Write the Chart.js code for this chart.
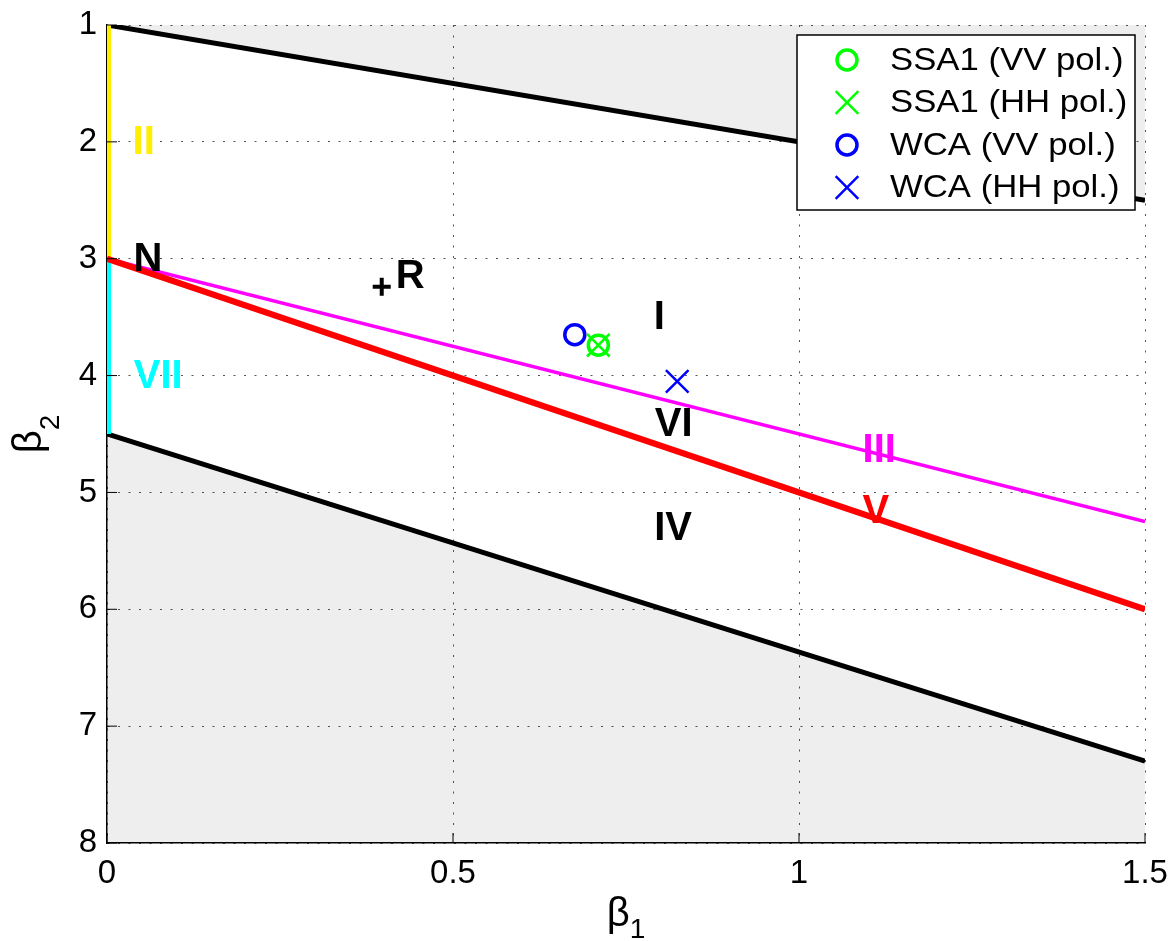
<!DOCTYPE html>
<html>
<head>
<meta charset="utf-8">
<script src="https://cdn.jsdelivr.net/npm/chart.js@4/dist/chart.umd.min.js"></script>
<style>
  html, body { margin: 0; padding: 0; background: #fff; }
  #wrap { width: 1172px; height: 941px; }
</style>
</head>
<body>
<div id="wrap"><canvas id="chart" width="1172" height="941"></canvas></div>
<script>
// ---------------- DATA ----------------
const lineX = [0, 1.5];
const upperY = [1, 2.5];      // black, top boundary
const lowerY = [4.5, 7.3];    // black, bottom boundary
const redY = [3, 6];          // V
const magentaY = [3, 5.25];   // III
const edgeX = [0, 0];
const yellowY = [1, 3];       // II
const cyanY = [3, 4.5];       // VII

const seriesNames = ["SSA1 (VV pol.)", "SSA1 (HH pol.)", "WCA (VV pol.)", "WCA (HH pol.)"];
const seriesX = [0.710, 0.710, 0.676, 0.824];
const seriesY = [3.74, 3.74, 3.65, 4.05];
const seriesColors = ["#00ff00", "#00ff00", "#0000ff", "#0000ff"];
const seriesStyles = ["circle", "crossRot", "circle", "crossRot"];

const refX = [0.397];
const refY = [3.24];

const regionLabels = ["II", "N", "R", "VII", "I", "VI", "IV", "III", "V"];
const regionX = [0.053, 0.059, 0.438, 0.074, 0.798, 0.819, 0.818, 1.116, 1.111];
const regionY = [2.0, 3.0, 3.15, 4.0, 3.5, 4.41, 5.30, 4.64, 5.16];
const regionColors = ["#ffee00", "#000", "#000", "#00ffff", "#000", "#000", "#000", "#ff00ff", "#ff0000"];

const xTicks = [0, 0.5, 1, 1.5];
const yTicks = [1, 2, 3, 4, 5, 6, 7, 8];

const FONT = "'Liberation Sans', Arial, sans-serif";

const pts = (xs, ys) => xs.map((x, i) => ({ x: x, y: ys[i] }));

// ---------------- DATASETS ----------------
const datasets = [];

seriesNames.forEach((name, i) => {
    const circ = seriesStyles[i] === "circle";
    datasets.push({
        label: name,
        data: pts([seriesX[i]], [seriesY[i]]),
        showLine: false,
        pointStyle: seriesStyles[i],
        pointRadius: circ ? 10 : 16,
        pointBorderWidth: circ ? 3.5 : 2.5,
        borderColor: seriesColors[i],
        pointBackgroundColor: "rgba(0,0,0,0)",
        inLegend: true
    });
});

datasets.push({
    label: "R",
    data: pts(refX, refY),
    showLine: false,
    pointStyle: "cross",
    pointRadius: 9,
    pointBorderWidth: 4,
    borderColor: "#000"
});

function lineSet(label, xs, ys, color, width, extra) {
    return Object.assign({
        label: label,
        data: pts(xs, ys),
        showLine: true,
        borderColor: color,
        borderWidth: width,
        pointRadius: 0,
        fill: false
    }, extra || {});
}

datasets.push(lineSet("V", lineX, redY, "#ff0000", 6));
datasets.push(lineSet("III", lineX, magentaY, "#ff00ff", 3.5));
datasets.push(lineSet("II", edgeX, yellowY, "#ffee00", 8, { clip: 0 }));
datasets.push(lineSet("VII", edgeX, cyanY, "#00ffff", 8, { clip: 0 }));
datasets.push(lineSet("upper", lineX, upperY, "#000", 5,
    { fill: { value: 1 }, backgroundColor: "rgba(0,0,0,0.065)" }));
datasets.push(lineSet("lower", lineX, lowerY, "#000", 5,
    { fill: { value: 8 }, backgroundColor: "rgba(0,0,0,0.065)" }));

// ---------------- PLUGINS ----------------
const extras = {
    id: "extras",
    afterDatasetsDraw(chart) {
        const ctx = chart.ctx;
        const xs = chart.scales.x, ys = chart.scales.y;
        const ca = chart.chartArea;

        // inner tick marks (matlab style)
        ctx.save();
        ctx.strokeStyle = "#000";
        ctx.lineWidth = 1;
        ctx.beginPath();
        yTicks.forEach(v => {
            const py = ys.getPixelForValue(v);
            ctx.moveTo(ca.left, py); ctx.lineTo(ca.left + 10, py);
        });
        xTicks.forEach(v => {
            const px = xs.getPixelForValue(v);
            ctx.moveTo(px, ca.bottom); ctx.lineTo(px, ca.bottom - 10);
        });
        ctx.stroke();

        // region labels
        ctx.font = "bold 40px " + FONT;
        ctx.textAlign = "center";
        ctx.textBaseline = "middle";
        regionLabels.forEach((t, i) => {
            ctx.fillStyle = regionColors[i];
            ctx.fillText(t, xs.getPixelForValue(regionX[i]), ys.getPixelForValue(regionY[i]) + 1);
        });
        ctx.restore();
    },
    afterDraw(chart) {
        const ctx = chart.ctx;
        const ca = chart.chartArea;

        // legend box
        const bw = 338, bh = 175;
        const bx = ca.right - 10 - bw, by = ca.top + 10;
        ctx.save();
        ctx.fillStyle = "#fff";
        ctx.fillRect(bx, by, bw, bh);
        ctx.strokeStyle = "#000";
        ctx.lineWidth = 1.5;
        ctx.strokeRect(bx, by, bw, bh);

        const items = chart.data.datasets.filter(d => d.inLegend);
        ctx.textAlign = "left";
        ctx.textBaseline = "middle";
        items.forEach((d, i) => {
            const cy = by + 25 + i * 42.5;
            ctx.strokeStyle = d.borderColor;
            ctx.lineWidth = d.pointBorderWidth;
            ctx.fillStyle = "rgba(0,0,0,0)";
            Chart.helpers.drawPoint(ctx, {
                pointStyle: d.pointStyle,
                radius: d.pointRadius,
                borderWidth: d.pointBorderWidth,
                rotation: 0
            }, bx + 50, cy);
            ctx.fillStyle = "#000";
            ctx.save();
            ctx.translate(bx + 93, cy + 1);
            ctx.scale(1.12, 1);
            ctx.font = "31px " + FONT;
            ctx.fillText(d.label, 0, 0);
            ctx.restore();
        });

        // axis titles: beta_1 and beta_2
        ctx.fillStyle = "#000";
        ctx.textBaseline = "alphabetic";
        ctx.textAlign = "left";
        ctx.font = "40px " + FONT;
        const bwid = ctx.measureText("\u03b2").width;
        ctx.font = "28px " + FONT;
        const swid = ctx.measureText("1").width;
        const cx = (ca.left + ca.right) / 2;
        const x0 = cx - (bwid + swid) / 2;
        ctx.font = "40px " + FONT;
        ctx.fillText("\u03b2", x0, 926);
        ctx.font = "28px " + FONT;
        ctx.fillText("1", x0 + bwid, 938);

        ctx.translate(41, (ca.top + ca.bottom) / 2);
        ctx.rotate(-Math.PI / 2);
        const y0 = -(bwid + swid) / 2;
        ctx.font = "40px " + FONT;
        ctx.fillText("\u03b2", y0, 0);
        ctx.font = "28px " + FONT;
        ctx.fillText("2", y0 + bwid, 18);
        ctx.restore();
    }
};

// ---------------- CHART ----------------
const ctx = document.getElementById("chart").getContext("2d");
const chart = new Chart(ctx, {
    type: "scatter",
    data: { datasets: datasets },
    options: {
        responsive: false,
        animation: false,
        layout: { padding: { left: 0, right: 27, top: 25, bottom: 0 } },
        plugins: {
            legend: { display: false },
            tooltip: { enabled: false }
        },
        scales: {
            x: {
                type: "linear",
                min: 0, max: 1.5,
                afterBuildTicks: s => { s.ticks = xTicks.map(v => ({ value: v })); },
                afterFit: s => { s.height = 98; s.paddingLeft = 0; s.paddingRight = 0; },
                ticks: {
                    color: "#000",
                    padding: 11,
                    maxRotation: 0,
                    font: { family: FONT, size: 33 },
                    callback: v => String(v)
                },
                grid: { color: "#555", lineWidth: 1, drawTicks: false },
                border: { display: true, color: "#000", width: 1.5, dash: [2, 8.5] }
            },
            y: {
                type: "linear",
                reverse: true,
                min: 1, max: 8,
                afterBuildTicks: s => { s.ticks = yTicks.map(v => ({ value: v })); },
                afterFit: s => { s.width = 107; s.paddingTop = 0; s.paddingBottom = 0; },
                ticks: {
                    color: "#000",
                    padding: 10,
                    font: { family: FONT, size: 33 },
                    callback: v => String(v)
                },
                grid: { color: "#555", lineWidth: 1, drawTicks: false },
                border: { display: true, color: "#000", width: 1.5, dash: [2, 8.5] }
            }
        }
    },
    plugins: [extras]
});
</script>
</body>
</html>
